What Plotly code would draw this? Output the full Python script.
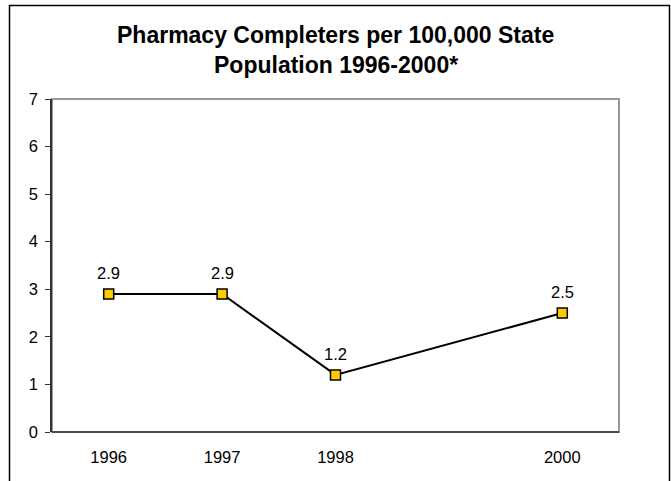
import plotly.graph_objects as go

years = [1996, 1997, 1998, 2000]
values = [2.9, 2.9, 1.2, 2.5]
labels = ["2.9", "2.9", "1.2", "2.5"]
tick_years = [1996, 1997, 1998, 2000]
tick_text = ["1996", "1997", "1998", "2000"]
title_lines = ["Pharmacy Completers per 100,000 State", "Population 1996-2000*"]

W, H = 671, 481
L, R, T, B = 52, 52, 99, 49
pw, ph = W - L - R, H - T - B

def px(x):
    return (x - L) / pw

def py(y):
    return (H - B - y) / ph

FONT = "Liberation Sans, Arial, sans-serif"

fig = go.Figure()
fig.add_trace(go.Scatter(
    x=years, y=values, mode="lines+markers",
    line=dict(color="black", width=2),
    marker=dict(symbol="square", size=10, color="#FFCC00",
                line=dict(color="black", width=1.5)),
    cliponaxis=False, showlegend=False,
))

annotations = []
for xv, yv, lab in zip(years, values, labels):
    annotations.append(dict(
        text=lab, x=xv, y=yv, xref="x", yref="y", showarrow=False,
        xanchor="center", yanchor="middle", yshift=21,
        font=dict(family=FONT, size=16.5, color="black")))
for i, line in enumerate(title_lines):
    annotations.append(dict(
        text="<b>%s</b>" % line, xref="paper", yref="paper",
        x=0.5, y=py(35 + 30 * i), xanchor="center", yanchor="middle",
        showarrow=False, font=dict(family=FONT, size=23, color="black")))

fig.update_layout(
    width=W, height=H,
    margin=dict(l=L, r=R, t=T, b=B),
    paper_bgcolor="white", plot_bgcolor="white",
    font=dict(family=FONT, size=16.5, color="black"),
    annotations=annotations,
    xaxis=dict(range=[1995.5, 2000.5], tickvals=tick_years, ticktext=tick_text,
               showgrid=False, zeroline=False, showline=False,
               ticks="", ticklabelstandoff=13,
               tickfont=dict(family=FONT, size=16.5, color="black")),
    yaxis=dict(range=[0, 7], dtick=1, showgrid=False, zeroline=False,
               showline=True, linecolor="#333333", linewidth=1.5,
               ticks="outside", ticklen=5, tickcolor="#333333",
               ticklabelstandoff=4,
               tickfont=dict(family=FONT, size=16.5, color="black")),
    shapes=[
        dict(type="rect", xref="paper", yref="paper", x0=0, x1=1, y0=0, y1=1,
             line=dict(color="#999999", width=2), layer="below"),
        dict(type="line", xref="paper", yref="paper", x0=0, x1=1, y0=0, y1=0,
             line=dict(color="#333333", width=1.5)),
        dict(type="rect", xref="paper", yref="paper",
             x0=px(9.5), x1=px(669.5), y0=py(495), y1=py(5.5),
             line=dict(color="black", width=1.5)),
    ],
)

fig.write_html("out.html", config={"displayModeBar": False},
               post_script="document.body.style.margin='0';document.body.style.overflow='hidden';")
